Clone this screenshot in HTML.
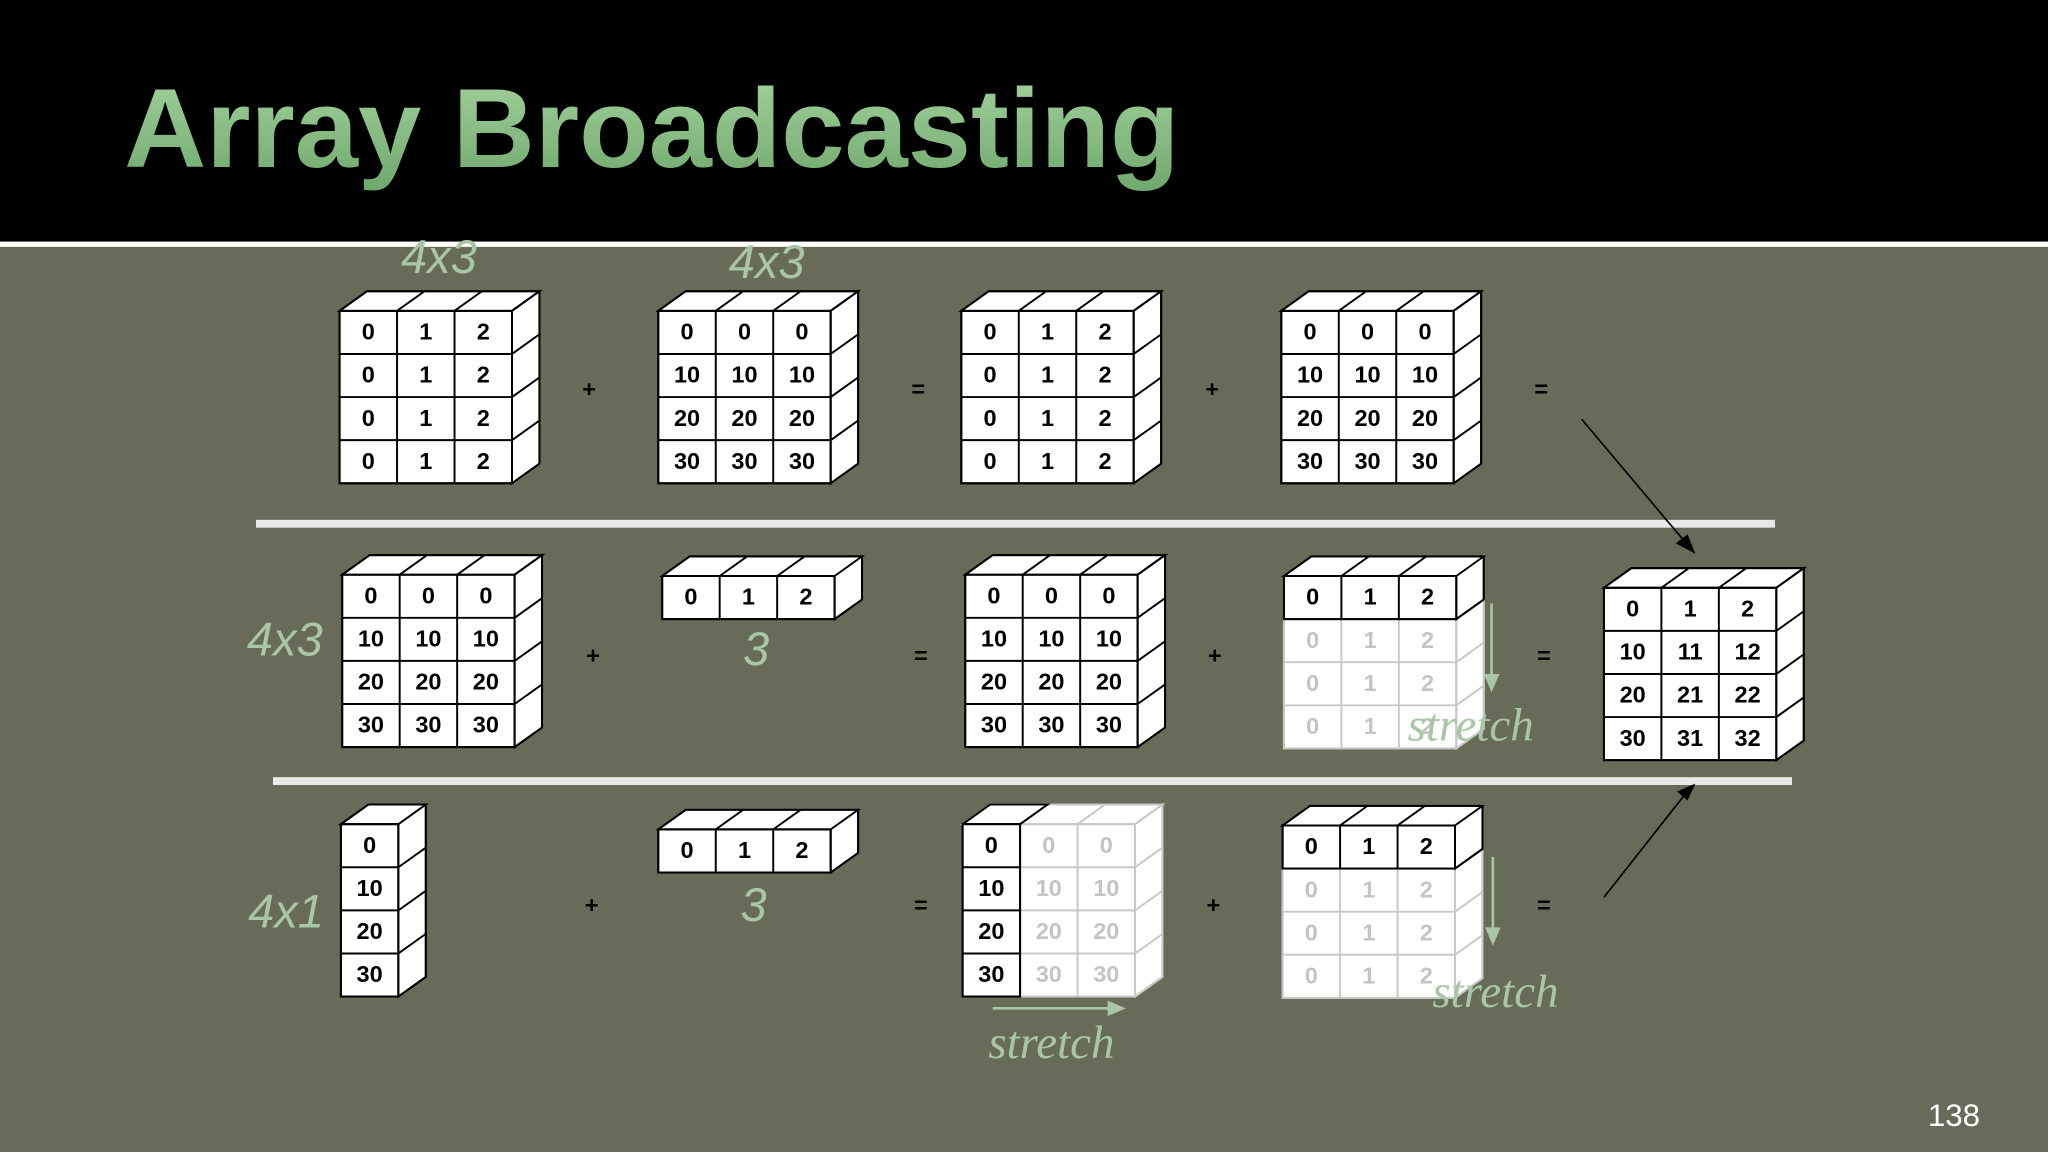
<!DOCTYPE html>
<html><head><meta charset="utf-8"><style>
html,body{margin:0;padding:0;background:#676b57;}
svg{display:block}
.n{font-family:"Liberation Sans",sans-serif;font-weight:bold;font-size:18px;text-anchor:middle;fill:#000}
.f{fill:#c4c4c4}
.op{font-family:"Liberation Sans",sans-serif;font-weight:bold;font-size:18px;text-anchor:middle;fill:#000}
.lb{font-family:"Liberation Sans",sans-serif;font-style:italic;font-size:36px;fill:#a9c7a4;text-anchor:middle}
.st{font-family:"Liberation Serif",serif;font-style:italic;font-size:36px;fill:#a9c7a4;text-anchor:middle}
</style></head><body>
<svg width="2048" height="1152" viewBox="0 0 1568 882" xmlns="http://www.w3.org/2000/svg">
<defs>
<linearGradient id="tg" x1="0" y1="0" x2="0" y2="1"><stop offset="0" stop-color="#a6d3a0"/><stop offset="1" stop-color="#6fa86c"/></linearGradient>
<g id="F43">
<rect x="0" y="0" width="132" height="132" fill="#fff"/>
<polygon points="0,0 21,-15 153,-15 132,0" fill="#fff"/>
<polygon points="132,0 153,-15 153,117 132,132" fill="#fff"/>
<path d="M0,0H132V132H0Z M44,0V132 M88,0V132 M0,33H132 M0,66H132 M0,99H132 M0,0L21,-15H153L132,0 M44,0L65,-15 M88,0L109,-15 M153,-15V117L132,132 M132,33L153,18 M132,66L153,51 M132,99L153,84" fill="none"/>
</g>
<g id="F13">
<rect x="0" y="0" width="132" height="33" fill="#fff"/>
<polygon points="0,0 21,-15 153,-15 153,18 132,33 132,0" fill="#fff"/>
<path d="M0,0H132V33H0Z M44,0V33 M88,0V33 M0,0L21,-15H153L132,0 M44,0L65,-15 M88,0L109,-15 M153,-15V18L132,33" fill="none"/>
</g>
<g id="F41">
<rect x="0" y="0" width="44" height="132" fill="#fff"/>
<polygon points="0,0 21,-15 65,-15 65,117 44,132 44,0" fill="#fff"/>
<path d="M0,0H44V132H0Z M0,33H44 M0,66H44 M0,99H44 M0,0L21,-15H65L44,0 M65,-15V117L44,132 M44,33L65,18 M44,66L65,51 M44,99L65,84" fill="none"/>
</g>
<g id="C1">
<rect x="0" y="0" width="44" height="132" fill="#fff"/>
<path d="M0,0H44V132H0Z M0,33H44 M0,66H44 M0,99H44 M0,0L21,-15H65L44,0" fill="none"/>
</g>
</defs>
<rect x="0" y="0" width="1568" height="185" fill="#000"/>
<rect x="0" y="185" width="1568" height="4" fill="#fff"/>
<text x="95" y="128" font-family="'Liberation Sans',sans-serif" font-weight="bold" font-size="86" fill="url(#tg)" textLength="808" lengthAdjust="spacingAndGlyphs">Array Broadcasting</text>

<rect x="196" y="398" width="1163" height="6" fill="#e8e8e8"/>
<rect x="209" y="595" width="1163" height="6" fill="#e8e8e8"/>

<g stroke="#000" stroke-width="1.5">
<use href="#F43" x="260" y="238"/>
<use href="#F43" x="504" y="238"/>
<use href="#F43" x="736" y="238"/>
<use href="#F43" x="981" y="238"/>
<use href="#F43" x="262" y="440"/>
<use href="#F13" x="507" y="441"/>
<use href="#F43" x="739" y="440"/>
<use href="#F43" x="1228" y="450"/>
<use href="#F41" x="261" y="631"/>
<use href="#F13" x="504" y="635"/>
</g>
<g stroke="#c8c8c8" stroke-width="1.5">
<use href="#F43" x="983" y="441"/>
<use href="#F43" x="737" y="631"/>
<use href="#F43" x="982" y="632"/>
</g>
<g stroke="#000" stroke-width="1.5">
<use href="#F13" x="983" y="441"/>
<use href="#C1" x="737" y="631"/>
<use href="#F13" x="982" y="632"/>
</g>

<!-- Row1 -->
<g class="n">
<text x="282" y="260">0</text><text x="326" y="260">1</text><text x="370" y="260">2</text>
<text x="282" y="293">0</text><text x="326" y="293">1</text><text x="370" y="293">2</text>
<text x="282" y="326">0</text><text x="326" y="326">1</text><text x="370" y="326">2</text>
<text x="282" y="359">0</text><text x="326" y="359">1</text><text x="370" y="359">2</text>
<text x="526" y="260">0</text><text x="570" y="260">0</text><text x="614" y="260">0</text>
<text x="526" y="293">10</text><text x="570" y="293">10</text><text x="614" y="293">10</text>
<text x="526" y="326">20</text><text x="570" y="326">20</text><text x="614" y="326">20</text>
<text x="526" y="359">30</text><text x="570" y="359">30</text><text x="614" y="359">30</text>
<text x="758" y="260">0</text><text x="802" y="260">1</text><text x="846" y="260">2</text>
<text x="758" y="293">0</text><text x="802" y="293">1</text><text x="846" y="293">2</text>
<text x="758" y="326">0</text><text x="802" y="326">1</text><text x="846" y="326">2</text>
<text x="758" y="359">0</text><text x="802" y="359">1</text><text x="846" y="359">2</text>
<text x="1003" y="260">0</text><text x="1047" y="260">0</text><text x="1091" y="260">0</text>
<text x="1003" y="293">10</text><text x="1047" y="293">10</text><text x="1091" y="293">10</text>
<text x="1003" y="326">20</text><text x="1047" y="326">20</text><text x="1091" y="326">20</text>
<text x="1003" y="359">30</text><text x="1047" y="359">30</text><text x="1091" y="359">30</text>
<!-- Row2 -->
<text x="284" y="462">0</text><text x="328" y="462">0</text><text x="372" y="462">0</text>
<text x="284" y="495">10</text><text x="328" y="495">10</text><text x="372" y="495">10</text>
<text x="284" y="528">20</text><text x="328" y="528">20</text><text x="372" y="528">20</text>
<text x="284" y="561">30</text><text x="328" y="561">30</text><text x="372" y="561">30</text>
<text x="529" y="463">0</text><text x="573" y="463">1</text><text x="617" y="463">2</text>
<text x="761" y="462">0</text><text x="805" y="462">0</text><text x="849" y="462">0</text>
<text x="761" y="495">10</text><text x="805" y="495">10</text><text x="849" y="495">10</text>
<text x="761" y="528">20</text><text x="805" y="528">20</text><text x="849" y="528">20</text>
<text x="761" y="561">30</text><text x="805" y="561">30</text><text x="849" y="561">30</text>
<text x="1005" y="463">0</text><text x="1049" y="463">1</text><text x="1093" y="463">2</text>
<text x="1250" y="472">0</text><text x="1294" y="472">1</text><text x="1338" y="472">2</text>
<text x="1250" y="505">10</text><text x="1294" y="505">11</text><text x="1338" y="505">12</text>
<text x="1250" y="538">20</text><text x="1294" y="538">21</text><text x="1338" y="538">22</text>
<text x="1250" y="571">30</text><text x="1294" y="571">31</text><text x="1338" y="571">32</text>
<!-- Row3 -->
<text x="283" y="653">0</text><text x="283" y="686">10</text><text x="283" y="719">20</text><text x="283" y="752">30</text>
<text x="526" y="657">0</text><text x="570" y="657">1</text><text x="614" y="657">2</text>
<text x="759" y="653">0</text><text x="759" y="686">10</text><text x="759" y="719">20</text><text x="759" y="752">30</text>
<text x="1004" y="654">0</text><text x="1048" y="654">1</text><text x="1092" y="654">2</text>
</g>
<g class="n f">
<text x="1005" y="496">0</text><text x="1049" y="496">1</text><text x="1093" y="496">2</text>
<text x="1005" y="529">0</text><text x="1049" y="529">1</text><text x="1093" y="529">2</text>
<text x="1005" y="562">0</text><text x="1049" y="562">1</text><text x="1093" y="562">2</text>
<text x="803" y="653">0</text><text x="847" y="653">0</text>
<text x="803" y="686">10</text><text x="847" y="686">10</text>
<text x="803" y="719">20</text><text x="847" y="719">20</text>
<text x="803" y="752">30</text><text x="847" y="752">30</text>
<text x="1004" y="687">0</text><text x="1048" y="687">1</text><text x="1092" y="687">2</text>
<text x="1004" y="720">0</text><text x="1048" y="720">1</text><text x="1092" y="720">2</text>
<text x="1004" y="753">0</text><text x="1048" y="753">1</text><text x="1092" y="753">2</text>
</g>

<g class="op">
<text x="451" y="304">+</text><text x="703" y="304">=</text><text x="928" y="304">+</text><text x="1180" y="304">=</text>
<text x="454" y="508">+</text><text x="705" y="508">=</text><text x="930" y="508">+</text><text x="1182" y="508">=</text>
<text x="453" y="699">+</text><text x="705" y="699">=</text><text x="929" y="699">+</text><text x="1182" y="699">=</text>
</g>

<g class="lb">
<text x="336" y="209">4x3</text>
<text x="587" y="213">4x3</text>
<text x="218" y="502">4x3</text>
<text x="579" y="509">3</text>
<text x="577" y="705">3</text>
<text x="219" y="710">4x1</text>
</g>

<g stroke="#a9c7a4" stroke-width="2" fill="#a9c7a4">
<line x1="1142" y1="462" x2="1142" y2="518"/><polygon points="1136,516 1148,516 1142,530" stroke="none"/>
<line x1="1143" y1="656" x2="1143" y2="712"/><polygon points="1137,710 1149,710 1143,724" stroke="none"/>
<line x1="760" y1="772" x2="850" y2="772"/><polygon points="848,766 848,778 862,772" stroke="none"/>
</g>
<g class="st">
<text x="1126" y="567">stretch</text>
<text x="1145" y="771">stretch</text>
<text x="805" y="810">stretch</text>
</g>

<g stroke="#000" stroke-width="1.3" fill="#000">
<line x1="1211" y1="321" x2="1291" y2="416"/><polygon points="1298,424 1283,416 1292,409" stroke="none"/>
<line x1="1228" y1="687" x2="1291" y2="607"/><polygon points="1298,600 1292,613 1284,606" stroke="none"/>
</g>

<text x="1496" y="862" font-family="'Liberation Sans',sans-serif" font-size="24" fill="#fff" text-anchor="middle">138</text>
</svg>
</body></html>
